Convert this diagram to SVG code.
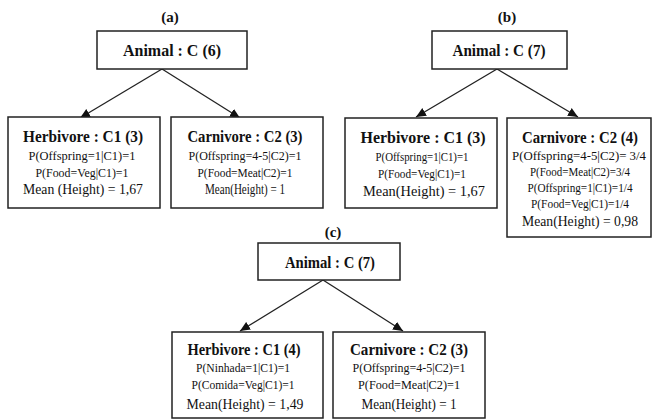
<svg xmlns="http://www.w3.org/2000/svg" width="653" height="420" viewBox="0 0 653 420">
<style>
.box{fill:#fff;stroke:#222;stroke-width:1.5}
text{font-family:"Liberation Serif","DejaVu Serif","Times New Roman",serif;fill:#111;text-anchor:middle}
.lab{font-size:15px;font-weight:bold}
.root{font-size:16.5px;font-weight:bold}
.ttl{font-size:16px;font-weight:bold}
.p{font-size:13px}
.m{font-size:14.5px}
.edge{stroke:#222;stroke-width:1.3;fill:none;marker-end:url(#ah)}
</style>
<defs>
<marker id="ah" markerUnits="userSpaceOnUse" markerWidth="10" markerHeight="10" viewBox="0 0 10 10" refX="10" refY="5" orient="auto">
<path d="M0,0.5 L10,5 L0,9.5 Z" fill="#111"/>
</marker>
</defs>
<rect width="653" height="420" fill="#fff"/>
<g id="labels">
<text class="lab" x="170" y="22">(a)</text>
<text class="lab" x="507" y="22">(b)</text>
<text class="lab" x="333" y="237">(c)</text>
</g>
<g id="connectors">
<line class="edge" x1="162" y1="69" x2="80" y2="118"/>
<line class="edge" x1="162" y1="69" x2="240" y2="118"/>
<line class="edge" x1="497" y1="69" x2="416" y2="117"/>
<line class="edge" x1="497" y1="69" x2="578" y2="117"/>
<line class="edge" x1="323" y1="280" x2="240" y2="331"/>
<line class="edge" x1="323" y1="280" x2="403" y2="331"/>
</g>
<g id="a-root">
<rect class="box" x="97" y="31" width="150" height="38"/>
<text class="root" x="172" y="56" textLength="98" lengthAdjust="spacingAndGlyphs">Animal : C (6)</text>
</g>
<g id="a-herb">
<rect class="box" x="8" y="117" width="152" height="91"/>
<text class="ttl" x="83" y="142" textLength="120" lengthAdjust="spacingAndGlyphs">Herbivore : C1 (3)</text>
<text class="p" x="82" y="160" textLength="107" lengthAdjust="spacingAndGlyphs">P(Offspring=1|C1)=1</text>
<text class="p" x="82" y="177" textLength="93" lengthAdjust="spacingAndGlyphs">P(Food=Veg|C1)=1</text>
<text class="m" x="83" y="194" textLength="120" lengthAdjust="spacingAndGlyphs">Mean (Height) = 1,67</text>
</g>
<g id="a-carn">
<rect class="box" x="171" y="117" width="152" height="91"/>
<text class="ttl" x="245" y="142" textLength="115" lengthAdjust="spacingAndGlyphs">Carnivore : C2 (3)</text>
<text class="p" x="245" y="160" textLength="113" lengthAdjust="spacingAndGlyphs">P(Offspring=4-5|C2)=1</text>
<text class="p" x="245" y="177" textLength="95" lengthAdjust="spacingAndGlyphs">P(Food=Meat|C2)=1</text>
<text class="m" x="245" y="194" textLength="80" lengthAdjust="spacingAndGlyphs">Mean(Height) = 1</text>
</g>
<g id="b-root">
<rect class="box" x="432" y="31" width="135" height="38"/>
<text class="root" x="499" y="56" textLength="93" lengthAdjust="spacingAndGlyphs">Animal : C (7)</text>
</g>
<g id="b-herb">
<rect class="box" x="345" y="118" width="152" height="90"/>
<text class="ttl" x="423" y="143" textLength="125" lengthAdjust="spacingAndGlyphs">Herbivore : C1 (3)</text>
<text class="p" x="422" y="161" textLength="93" lengthAdjust="spacingAndGlyphs">P(Offspring=1|C1)=1</text>
<text class="p" x="422" y="178" textLength="88" lengthAdjust="spacingAndGlyphs">P(Food=Veg|C1)=1</text>
<text class="m" x="424" y="196" textLength="122" lengthAdjust="spacingAndGlyphs">Mean(Height) = 1,67</text>
</g>
<g id="b-carn">
<rect class="box" x="507" y="118" width="144" height="119"/>
<text class="ttl" x="580" y="143" textLength="116" lengthAdjust="spacingAndGlyphs">Carnivore : C2 (4)</text>
<text class="p" x="579" y="160" textLength="134" lengthAdjust="spacingAndGlyphs">P(Offspring=4-5|C2)= 3/4</text>
<text class="p" x="580" y="176" textLength="100" lengthAdjust="spacingAndGlyphs">P(Food=Meat|C2)=3/4</text>
<text class="p" x="580" y="192" textLength="105" lengthAdjust="spacingAndGlyphs">P(Offspring=1|C1)=1/4</text>
<text class="p" x="580" y="208" textLength="98" lengthAdjust="spacingAndGlyphs">P(Food=Veg|C1)=1/4</text>
<text class="m" x="580" y="226" textLength="116" lengthAdjust="spacingAndGlyphs">Mean(Height) = 0,98</text>
</g>
<g id="c-root">
<rect class="box" x="258" y="243" width="142" height="37"/>
<text class="root" x="330" y="268" textLength="90" lengthAdjust="spacingAndGlyphs">Animal : C (7)</text>
</g>
<g id="c-herb">
<rect class="box" x="172" y="332" width="151" height="86"/>
<text class="ttl" x="244" y="355" textLength="113" lengthAdjust="spacingAndGlyphs">Herbivore : C1 (4)</text>
<text class="p" x="243" y="372" textLength="94" lengthAdjust="spacingAndGlyphs">P(Ninhada=1|C1)=1</text>
<text class="p" x="243" y="389" textLength="103" lengthAdjust="spacingAndGlyphs">P(Comida=Veg|C1)=1</text>
<text class="m" x="245" y="409" textLength="117" lengthAdjust="spacingAndGlyphs">Mean(Height) = 1,49</text>
</g>
<g id="c-carn">
<rect class="box" x="333" y="332" width="152" height="86"/>
<text class="ttl" x="409" y="355" textLength="118" lengthAdjust="spacingAndGlyphs">Carnivore : C2 (3)</text>
<text class="p" x="409" y="372" textLength="113" lengthAdjust="spacingAndGlyphs">P(Offspring=4-5|C2)=1</text>
<text class="p" x="409" y="389" textLength="102" lengthAdjust="spacingAndGlyphs">P(Food=Meat|C2)=1</text>
<text class="m" x="409" y="409" textLength="95" lengthAdjust="spacingAndGlyphs">Mean(Height) = 1</text>
</g>
</svg>
